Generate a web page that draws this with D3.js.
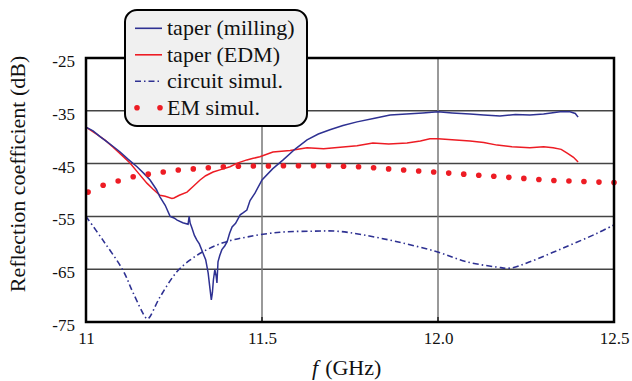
<!DOCTYPE html>
<html>
<head>
<meta charset="utf-8">
<script src="https://cdn.jsdelivr.net/npm/d3@7"></script>
</head>
<body>
<svg id="chart" width="632" height="381" style="position:absolute; left:0; top:0"></svg>
<script>
// --- data ---
var xTicks = [11, 11.5, 12.0, 12.5];
var xTickLabels = ["11", "11.5", "12.0", "12.5"];
var yTicks = [-25, -35, -45, -55, -65, -75];

var millingF = [11.0, 11.02, 11.04, 11.06, 11.08, 11.097, 11.12, 11.145, 11.165, 11.182, 11.2, 11.21, 11.225, 11.239, 11.25, 11.259, 11.275, 11.29, 11.293, 11.296, 11.30, 11.308, 11.315, 11.322, 11.332, 11.34, 11.347, 11.352, 11.356, 11.359, 11.362, 11.366, 11.37, 11.372, 11.375, 11.38, 11.386, 11.394, 11.401, 11.408, 11.415, 11.425, 11.438, 11.447, 11.457, 11.466, 11.48, 11.50, 11.53, 11.56, 11.595, 11.628, 11.66, 11.693, 11.73, 11.77, 11.82, 11.864, 11.91, 11.957, 12.0, 12.04, 12.091, 12.13, 12.176, 12.22, 12.261, 12.30, 12.347, 12.375, 12.39, 12.398];
var millingDb = [-38.1, -38.8, -39.9, -40.9, -41.9, -42.8, -44.2, -45.6, -46.9, -48.1, -49.9, -51.3, -52.9, -55.0, -55.3, -55.7, -56.2, -56.5, -55.0, -56.3, -57.0, -58.6, -59.5, -60.2, -61.9, -63.2, -65.7, -68.6, -70.8, -69.5, -67.0, -65.1, -66.4, -67.6, -63.6, -62.4, -61.3, -60.6, -59.8, -58.2, -57.0, -56.3, -54.7, -54.3, -53.8, -52.0, -50.6, -48.1, -46.0, -44.3, -42.2, -40.5, -39.4, -38.6, -37.8, -37.1, -36.4, -35.8, -35.6, -35.4, -35.2, -35.4, -35.6, -35.8, -36.0, -35.7, -35.8, -35.6, -35.2, -35.2, -35.5, -36.2];

var edmF = [11.0, 11.03, 11.055, 11.077, 11.1, 11.125, 11.15, 11.173, 11.19, 11.21, 11.225, 11.244, 11.25, 11.265, 11.287, 11.305, 11.324, 11.34, 11.361, 11.385, 11.409, 11.43, 11.457, 11.475, 11.494, 11.531, 11.58, 11.628, 11.675, 11.722, 11.77, 11.815, 11.86, 11.912, 11.95, 11.977, 12.0, 12.04, 12.091, 12.13, 12.168, 12.21, 12.261, 12.30, 12.327, 12.35, 12.367, 12.385, 12.398];
var edmDb = [-38.1, -39.4, -40.6, -41.9, -43.3, -44.9, -46.9, -48.7, -49.8, -51.0, -51.2, -51.6, -51.5, -51.0, -50.4, -49.3, -48.1, -47.3, -46.6, -46.1, -45.6, -44.9, -44.3, -44.0, -43.7, -42.8, -42.5, -42.0, -42.2, -41.9, -41.6, -41.1, -41.3, -41.1, -40.7, -40.3, -40.3, -40.5, -40.7, -41.0, -41.5, -41.8, -42.0, -41.8, -42.0, -42.3, -43.0, -43.8, -44.7];

var circuitF = [11.0, 11.048, 11.105, 11.134, 11.17, 11.176, 11.21, 11.258, 11.295, 11.332, 11.389, 11.457, 11.551, 11.645, 11.713, 11.787, 11.884, 11.997, 12.082, 12.168, 12.205, 12.261, 12.355, 12.452, 12.5];
var circuitDb = [-55.0, -59.5, -65.2, -69.5, -74.2, -74.4, -70.3, -65.5, -63.3, -61.7, -60.0, -58.9, -58.0, -57.8, -57.8, -58.5, -59.8, -61.7, -63.6, -64.6, -64.8, -63.6, -61.0, -58.2, -56.6];

var emDb = [-50.4, -49.1, -48.3, -47.5, -47.0, -46.6, -46.2, -46.0, -45.8, -45.6, -45.5, -45.45, -45.45, -45.4, -45.4, -45.4, -45.4, -45.5, -45.6, -45.8, -46.0, -46.2, -46.4, -46.6, -46.8, -47.0, -47.2, -47.4, -47.6, -47.8, -48.0, -48.2, -48.3, -48.4, -48.5, -48.6];
var emF = d3.range(emDb.length).map(function(i) { return 11.006 + i * (1.494 / (emDb.length - 1)); });

var legendNames = ["taper (milling)", "taper (EDM)", "circuit simul.", "EM simul."];

var navy = "#2e3192", red = "#ed1c24";
var fontName = "Liberation Serif";

// --- layout ---
var W = 632, H = 381;
var margin = {top: 58, right: 18, bottom: 59, left: 86},
    width = W - margin.left - margin.right,
    height = H - margin.top - margin.bottom;

var svg = d3.select("#chart");

var g = svg.append("g")
    .attr("transform", "translate(" + margin.left + "," + margin.top + ")");

var x = d3.scaleLinear().domain([11, 12.5]).range([0, width]);
var y = d3.scaleLinear().domain([-75, -25]).range([height, 0]);

// grid
g.selectAll(".hgrid").data(yTicks.slice(1, -1)).enter().append("line")
    .attr("x1", 0).attr("x2", width)
    .attr("y1", function(d) { return y(d); }).attr("y2", function(d) { return y(d); })
    .style("stroke", "#444").style("stroke-width", 1.5);

g.selectAll(".vgrid").data(xTicks.slice(1, -1)).enter().append("line")
    .attr("y1", 0).attr("y2", height)
    .attr("x1", function(d) { return x(d); }).attr("x2", function(d) { return x(d); })
    .style("stroke", "#777").style("stroke-width", 1.5);

// small inward ticks on the bottom axis
g.selectAll(".xtick").data(xTicks.slice(1, -1)).enter().append("line")
    .attr("y1", height - 5).attr("y2", height)
    .attr("x1", function(d) { return x(d); }).attr("x2", function(d) { return x(d); })
    .style("stroke", "#222").style("stroke-width", 1.5);

// axes
var xAxis = d3.axisBottom(x).tickValues(xTicks).tickSize(0).tickPadding(10)
    .tickFormat(function(d, i) { return xTickLabels[i]; });
var yAxis = d3.axisLeft(y).tickValues(yTicks).tickSize(0).tickPadding(11)
    .tickFormat(function(d) { return "-" + Math.abs(d); });

var gx = g.append("g").attr("transform", "translate(0," + height + ")").call(xAxis);
var gy = g.append("g").call(yAxis);
gx.select(".domain").remove();
gy.select(".domain").remove();
gx.attr("font-family", null).attr("font-size", null);
gy.attr("font-family", null).attr("font-size", null);
gx.selectAll("text").style("font-size", "17px");
gy.selectAll("text").style("font-size", "17px").attr("dy", "0.5em");

// series
var line = d3.line()
    .x(function(d) { return x(d[0]); })
    .y(function(d) { return y(d[1]); });

g.append("path")
    .datum(d3.zip(circuitF, circuitDb))
    .attr("d", line.curve(d3.curveCatmullRom.alpha(0.5)))
    .style("fill", "none").style("stroke", navy).style("stroke-width", 1.6)
    .style("stroke-dasharray", "6,3,1.5,3");

line.curve(d3.curveLinear);

g.append("path")
    .datum(d3.zip(edmF, edmDb))
    .attr("d", line)
    .style("fill", "none").style("stroke", red).style("stroke-width", 1.5);

g.append("path")
    .datum(d3.zip(millingF, millingDb))
    .attr("d", line)
    .style("fill", "none").style("stroke", navy).style("stroke-width", 1.5);

g.append("g").selectAll("circle")
    .data(d3.zip(emF, emDb))
    .enter().append("circle")
    .attr("cx", function(d) { return x(d[0]); })
    .attr("cy", function(d) { return y(d[1]); })
    .attr("r", 2.8)
    .attr("fill", red);

// frame
g.append("rect")
    .attr("width", width).attr("height", height)
    .style("fill", "none").style("stroke", "#000").style("stroke-width", 2.5);

// axis titles
svg.append("text")
    .attr("transform", "translate(25,174) rotate(-90)")
    .attr("text-anchor", "middle")
    .style("font-size", "22px")
    .text("Reflection coefficient (dB)");

var xt = svg.append("text")
    .attr("x", 312)
    .attr("y", 375)
    .style("font-size", "22px");
xt.append("tspan").style("font-style", "italic").text("f");
xt.append("tspan").attr("dx", 7).text("(GHz)");

// legend
var leg = svg.append("g").attr("transform", "translate(125,10)");
leg.append("rect")
    .attr("width", 182).attr("height", 116).attr("rx", 12).attr("ry", 12)
    .style("fill", "#f0f0f0").style("stroke", "#000").style("stroke-width", 2);

legendNames.forEach(function(name, i) {
    var yy = 18.3 + i * 26.5;
    if (i < 3) {
        leg.append("line")
            .attr("x1", 10).attr("x2", 37).attr("y1", yy).attr("y2", yy)
            .style("stroke", i === 1 ? red : navy).style("stroke-width", 1.6)
            .style("stroke-dasharray", i === 2 ? "6,3,1.5,3" : null);
    } else {
        [12, 35].forEach(function(cx) {
            leg.append("circle").attr("cx", cx).attr("cy", yy).attr("r", 2.8).attr("fill", red);
        });
    }
    leg.append("text")
        .attr("x", 42).attr("y", yy + 7)
        .style("font-size", "22px")
        .text(name);
});

svg.selectAll("text").style("font-family", fontName).attr("fill", "#111");
</script>
</body>
</html>
